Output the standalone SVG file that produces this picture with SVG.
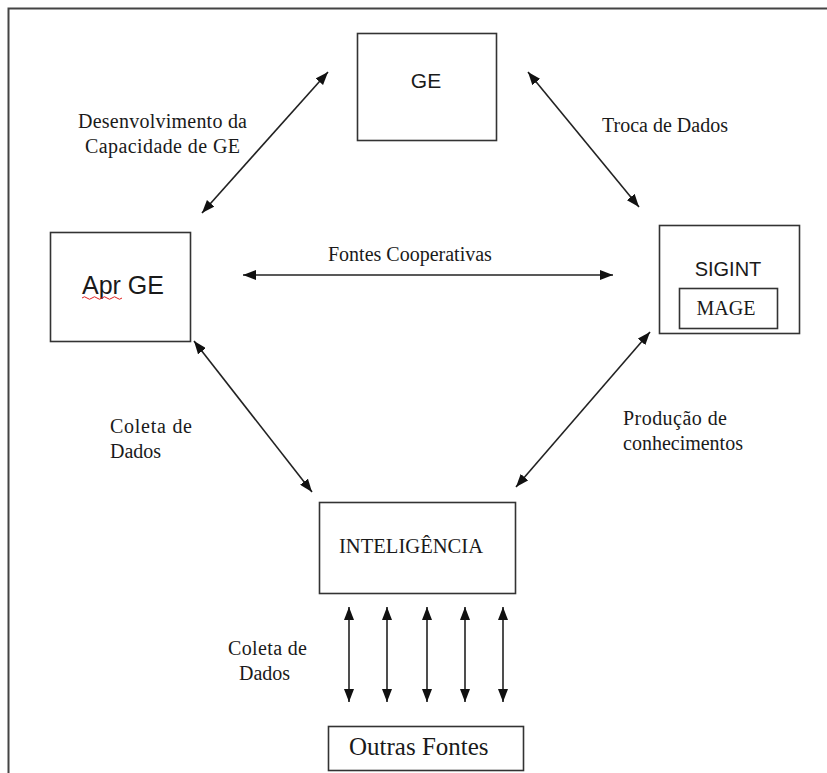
<svg xmlns="http://www.w3.org/2000/svg" width="827" height="773" viewBox="0 0 827 773">
  <style>
    .box { fill: #ffffff; stroke: #333333; stroke-width: 1.6; }
    .frame { fill: none; stroke: #444444; stroke-width: 2; }
    .link { fill: none; stroke: #222222; stroke-width: 1.6; marker-start: url(#head); marker-end: url(#head); }
    .serif { font-family: "Liberation Serif", "Times New Roman", serif; fill: #1a1a1a; }
    .sans { font-family: "Liberation Sans", Arial, sans-serif; fill: #1a1a1a; }
  </style>
  <defs>
    <marker id="head" viewBox="0 0 13 10" refX="13" refY="5" markerWidth="13" markerHeight="10" markerUnits="userSpaceOnUse" orient="auto-start-reverse">
      <path d="M0,0 L13,5 L0,10 Z" fill="#111111"/>
    </marker>
  </defs>
  <rect width="827" height="773" fill="#ffffff"/>

  <!-- page frame (open on the right and bottom) -->
  <path class="frame" d="M8.5,773 L8.5,8.5 L827,8.5"/>

  <!-- connectors -->
  <g id="connectors">
    <line class="link" x1="328" y1="72" x2="202" y2="213"/>
    <line class="link" x1="528" y1="72" x2="639" y2="207"/>
    <line class="link" x1="243" y1="275" x2="613" y2="275"/>
    <line class="link" x1="194" y1="341" x2="312" y2="492"/>
    <line class="link" x1="650" y1="332" x2="516" y2="487"/>
    <line class="link" x1="349" y1="607" x2="349" y2="702"/>
    <line class="link" x1="387" y1="607" x2="387" y2="702"/>
    <line class="link" x1="427" y1="607" x2="427" y2="702"/>
    <line class="link" x1="465" y1="607" x2="465" y2="702"/>
    <line class="link" x1="503" y1="607" x2="503" y2="702"/>
  </g>

  <!-- connector labels -->
  <g id="labels" class="serif" font-size="20">
    <text x="78" y="128" textLength="169" lengthAdjust="spacing">Desenvolvimento da</text>
    <text x="85" y="153" textLength="155" lengthAdjust="spacing">Capacidade de GE</text>
    <text x="602" y="132">Troca de Dados</text>
    <text x="328" y="261">Fontes Cooperativas</text>
    <text x="110" y="433" textLength="82" lengthAdjust="spacing">Coleta de</text>
    <text x="110" y="458">Dados</text>
    <text x="623" y="425" textLength="104" lengthAdjust="spacing">Produção de</text>
    <text x="623" y="450">conhecimentos</text>
    <text x="228" y="655" textLength="79" lengthAdjust="spacing">Coleta de</text>
    <text x="239" y="680">Dados</text>
  </g>

  <g id="node-ge">
    <rect class="box" x="357.5" y="33.5" width="139" height="107"/>
    <text class="sans" x="426" y="88" font-size="21" text-anchor="middle">GE</text>
  </g>

  <g id="node-apr-ge">
    <rect class="box" x="50.5" y="232.5" width="140" height="109"/>
    <text class="sans" x="82" y="294" font-size="25">Apr GE</text>
    <path d="M82,298 q2.5,-2.5 5,0 t5,0 t5,0 t5,0 t5,0 t5,0 t5,0 t5,0" fill="none" stroke="#e02020" stroke-width="1"/>
  </g>

  <g id="node-sigint">
    <rect class="box" x="659.5" y="225.5" width="140" height="108"/>
    <text class="sans" x="728" y="276" font-size="20" text-anchor="middle">SIGINT</text>
    <g id="node-mage">
      <rect class="box" x="679.5" y="288.5" width="98" height="40"/>
      <text class="serif" x="726" y="315" font-size="20" text-anchor="middle">MAGE</text>
    </g>
  </g>

  <g id="node-inteligencia">
    <rect class="box" x="319.5" y="502.5" width="196" height="91"/>
    <text class="serif" x="339" y="553" font-size="20" textLength="144" lengthAdjust="spacingAndGlyphs">INTELIGÊNCIA</text>
  </g>

  <g id="node-outras-fontes">
    <rect class="box" x="328.5" y="726.5" width="195" height="44"/>
    <text class="serif" x="349" y="755" font-size="25">Outras Fontes</text>
  </g>
</svg>
